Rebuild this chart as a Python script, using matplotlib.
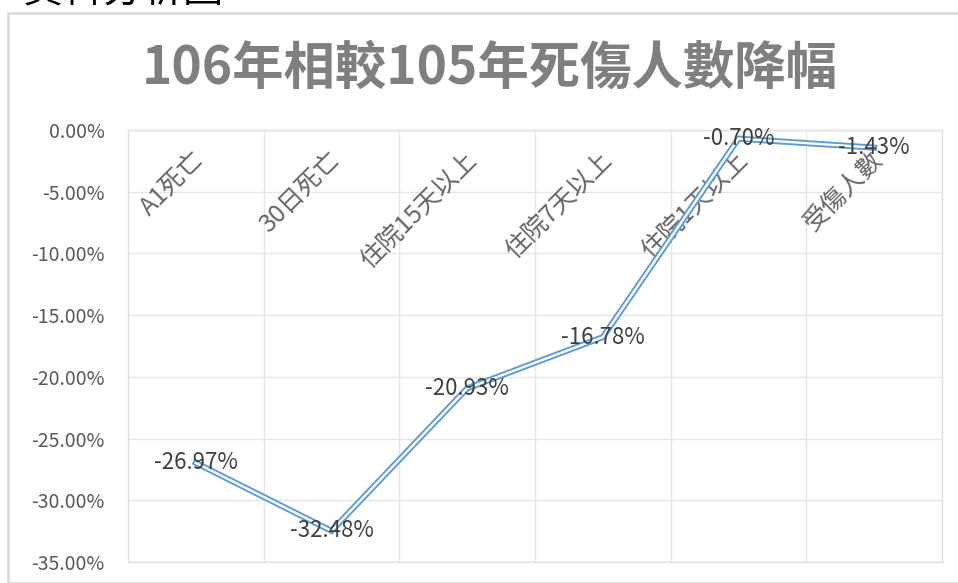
import matplotlib
matplotlib.use("Agg")
import matplotlib.pyplot as plt
from matplotlib.patches import Rectangle

plt.rcParams["font.family"] = ["Noto Sans CJK TC", "DejaVu Sans"]

# data
categories = ["A1死亡", "30日死亡", "住院15天以上", "住院7天以上", "住院1天以上", "受傷人數"]
change_pct = [-26.97, -32.48, -20.93, -16.78, -0.70, -1.43]
y_ticks = [0, -5, -10, -15, -20, -25, -30, -35]

title = "106年相較105年死傷人數降幅"

W, H = 958, 583
fig = plt.figure(figsize=(W / 100, H / 100), dpi=100)

# outer chart border (cut by the image edges on right / bottom)
fig.patches.append(Rectangle((8 / W, 0), 1.2, 1 - 13 / H, transform=fig.transFigure,
                             fill=False, edgecolor="#d9d9d9", linewidth=1.8))

# clipped heading above the chart
fig.text(22 / W, 1 - 2 / H, "資料分析圖", fontsize=29, color="black",
         ha="left", va="baseline")

ax = fig.add_axes([128 / W, 1 - 562 / H, (942 - 128) / W, (562 - 130) / H])

x = list(range(len(categories)))

# double line look: blue stroke with white core
ax.plot(x, change_pct, color="#5b9bd5", linewidth=4.4, solid_joinstyle="miter", zorder=3)
ax.plot(x, change_pct, color="white", linewidth=1.7, solid_joinstyle="miter", zorder=4)

for xi, v in zip(x, change_pct):
    ax.text(xi, v, f"{v:.2f}%", ha="center", va="center", fontsize=16,
            color="#404040", zorder=5)

for xi, name in zip(x, categories):
    ax.annotate(name, xy=(xi, 0), xytext=(-3, -12), textcoords="offset points",
                ha="right", va="top", rotation=45, rotation_mode="anchor",
                fontsize=18, color="#666666", zorder=2)

ax.set_xlim(-0.5, len(categories) - 0.5)
ax.set_ylim(-35, 0)
ax.set_yticks(y_ticks)
ax.set_yticklabels([f"{t:.2f}%" for t in y_ticks])
ax.set_xticks([i + 0.5 for i in range(len(categories) - 1)])
ax.set_xticklabels([])
ax.tick_params(axis="both", length=0)
ax.tick_params(axis="y", pad=17, labelsize=14, labelcolor="#595959")

ax.grid(True, color="#e6e6e6", linewidth=1.0)
ax.set_axisbelow(True)
for s in ax.spines.values():
    s.set_color("#e0e0e0")
    s.set_linewidth(1.0)

fig.text(490 / W, 1 - 68 / H, title, fontsize=37, fontweight="bold",
         color="#7f7f7f", ha="center", va="center")

fig.savefig("out.png", dpi=100)
